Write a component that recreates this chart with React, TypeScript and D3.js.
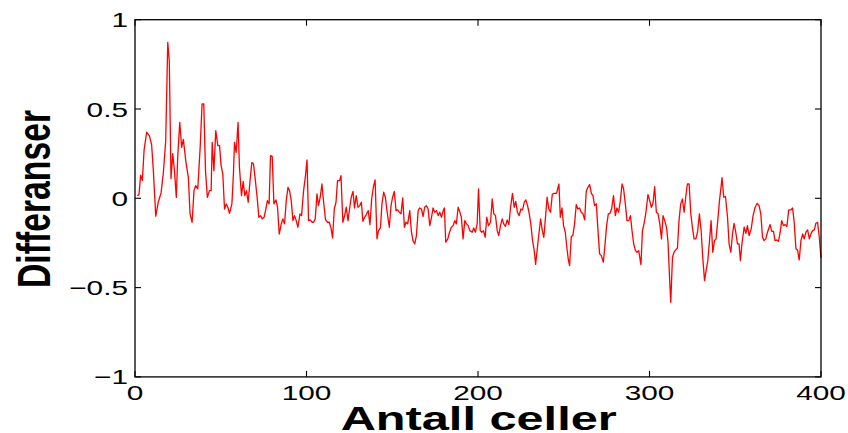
import React from "react";
import * as d3 from "d3";

const cellCounts = [
  1.3, 2.3, 3.3, 4.3, 5.3, 6.8, 8.4, 9.7, 10.7, 12.1, 13.6, 15.2, 16.5, 17.9, 19.1, 20, 21, 22, 23, 24.1, 24.9, 26.1, 27.2, 28.2, 29.6, 31.1, 32.1, 33.3, 34.4, 35.4, 36.6, 38, 39.1, 40.1, 41.1, 42.2, 43.4, 44.4, 45, 46, 47.1,
  48.3, 49.3, 50.2, 51.2, 52.2, 53.2, 54.1, 55.1, 56.5, 57.4, 58, 59, 60.1, 60.9, 62.1, 63.1, 64, 65, 66, 67, 68.1, 69.1, 70.2, 71.4, 72.2, 73.2, 74.2, 75.3, 76.3, 77.2, 78.2, 79, 80, 81, 82.2, 83.1, 84.1, 85.3, 86.2, 87.2, 88.2, 89.2, 90.1, 91.1, 92.1, 93, 94, 95, 96.2, 97.1,
  98.3, 99.3, 100.3, 101.2, 102.2, 103.2, 104.1, 105.1, 106.1, 107, 108, 109, 110, 111.1, 112.3, 113.3, 114.3, 115.2, 116.2, 117.2, 118.1, 119.3, 120.1, 121.2, 122.2, 123.2, 124.2, 125.1, 126.1, 127.1, 128, 129, 130, 131, 132, 132.9, 133.9, 134.9, 136, 137, 138, 139, 140, 141.1, 142, 143.1, 144, 145, 146,
  146.9, 148.3, 149.3, 150.2, 151.2, 152.2, 153.1, 154.1, 155.1, 156.1, 157.1, 158, 159, 160.2, 161.2, 162.1, 163.1, 164.1, 165.1, 166, 167, 168, 168.9, 169.9, 170.9, 171.9, 172.9, 173.8, 174.8, 175.8, 176.8, 177.7, 178.7, 179.7, 180.4, 181.2, 182.4, 183.4, 184.5, 185.5, 186.4, 187.4, 188.4, 189.3, 190.3, 191.3, 192.3, 193.3, 194.3, 195.2,
  196.6, 197.5, 198.5, 199.5, 200.3, 201.3, 202.2, 203.2, 204.2, 205.1, 206.1, 207.3, 208.3, 209.2, 210.2, 211.2, 212.1, 213.1, 214.1, 215, 216, 217, 218, 219, 220.1, 221.1, 222, 223, 224, 225, 226, 227, 227.9, 228.9, 229.9, 230.8, 231.8, 232.8, 233.6, 235.5, 236.5, 237.5, 238.4, 240.3, 241.3, 242.3, 243.3, 244.2, 245.8,
  247.2, 248, 249, 249.9, 250.9, 251.8, 252.6, 253.4, 254.4, 255.3, 256.3, 257.3, 258.2, 259.2, 260.2, 261.2, 262.2, 263.1, 264.1, 265.1, 266.1, 267, 268, 269, 269.9, 270.9, 271.9, 273.1, 274, 275, 276, 276.9, 277.9, 279, 280.1, 281, 282, 283, 284, 284.9, 285.9, 286.9, 287.9, 288.9, 289.8, 290.8, 291.8, 292.7, 293.7, 295,
  295.9, 296.8, 297.8, 299.1, 300.1, 301.1, 302, 303, 304, 305, 306, 307, 307.9, 308.9, 309.9, 310.8, 311.6, 312.4, 313.4, 314.3, 315.3, 316.3, 317.2, 318.2, 319.2, 320.2, 321.1, 322.1, 323.1, 324.1, 325, 326, 327, 328, 329.1, 330.1, 331.1, 332.1, 333, 334, 335, 335.9, 336.9, 337.9, 338.8, 339.8, 340.8, 341.6, 342.3, 343.3, 344.3,
  345.5, 346.4, 347.4, 348.4, 349.3, 350.3, 351.3, 352.2, 353, 354, 355.2, 356.2, 357.1, 358.1, 359.3, 360.4, 361.6, 362.8, 363.9, 364.9, 365.9, 366.8, 367.8, 368.8, 370.3, 371.3, 372.3, 373.2, 374.2, 375.2, 376.2, 377.1, 378.1, 379.1, 380.1, 381.2, 382.5, 383.4, 384.3, 385.4, 386.3, 387.3, 388.3, 389.3, 390.2, 391.2, 392.2, 393.2, 394.1, 395.1, 396.1, 397, 398, 399, 400,
];

const differences = [
  0.015, 0.02, 0.13, 0.1, 0.27, 0.37, 0.35, 0.3, 0.155, -0.1, -0.02, 0.03, 0.14, 0.32, 0.873, 0.77, 0.11, 0.25, 0.155, 0.005, 0.23, 0.425, 0.285, 0.33, 0.21, 0.117, -0.087, -0.134, 0.043, 0.071, 0.053, 0.285, 0.528, 0.528, 0.155, 0.005, 0.043, 0.043, 0.313, 0.155, 0.379,
  0.295, 0.295, 0.183, 0.137, -0.06, -0.031, -0.05, -0.084, -0.031, 0.137, 0.313, 0.257, 0.425, 0.173, 0.015, 0.095, 0.015, 0.043, -0.022, 0.09, 0.2, 0.192, 0.099, -0.013, -0.106, -0.097, -0.115, -0.106, -0.06, -0.013, -0.031, 0.239, 0.235, -0.031, -0.009, -0.05, -0.2, -0.143, -0.115, -0.143, -0.013, 0.062, 0.043, -0.013, -0.125, -0.097, -0.125, -0.162, -0.087, -0.097,
  0.043, 0.117, 0.215, -0.125, -0.121, -0.134, -0.134, -0.115, 0.025, -0.041, 0.006, 0.08, -0.022, -0.121, -0.134, -0.134, -0.166, -0.222, -0.06, -0.022, 0.099, 0.099, 0.127, -0.134, -0.097, -0.05, -0.125, -0.06, 0.006, 0.039, -0.054, 0.015, -0.05, -0.041, -0.022, -0.129, -0.106, -0.091, -0.069, -0.147, -0.003, 0.062, 0.103, -0.227, -0.181, -0.166, -0.031, 0.034, 0.006,
  -0.069, -0.162, -0.041, 0.006, 0.039, -0.069, -0.065, -0.078, -0.087, 0.002, -0.162, -0.134, -0.143, -0.069, -0.19, -0.237, -0.255, -0.209, -0.069, -0.054, -0.06, -0.102, -0.05, -0.041, -0.06, -0.153, -0.106, -0.054, -0.078, -0.069, -0.097, -0.078, -0.106, -0.069, -0.054, -0.246, -0.227, -0.19, -0.162, -0.153, -0.125, -0.143, -0.05, -0.073, -0.106, -0.227, -0.125, -0.143, -0.153, -0.181,
  -0.19, -0.166, -0.19, -0.143, 0.053, -0.181, -0.19, -0.181, -0.218, -0.106, -0.153, -0.134, -0.003, -0.087, -0.097, -0.181, -0.209, -0.153, -0.115, -0.143, -0.158, -0.121, -0.147, -0.05, 0.028, -0.05, -0.017, -0.078, -0.097, -0.06, -0.065, -0.022, -0.009, -0.041, -0.087, -0.143, -0.237, -0.293, -0.37, -0.2, -0.115, -0.181, -0.218, 0.006, -0.06, -0.078, 0.021, 0.028, 0.028,
  0.08, -0.106, -0.054, -0.153, -0.19, -0.274, -0.339, -0.377, -0.214, -0.209, -0.143, -0.035, -0.06, -0.054, -0.078, -0.087, -0.121, 0.039, 0.062, 0.077, 0.028, 0.015, -0.041, -0.031, -0.171, -0.311, -0.321, -0.358, -0.265, -0.153, -0.087, -0.084, -0.06, 0.015, -0.097, -0.054, -0.078, -0.013, 0.08, 0.053, -0.031, -0.125, -0.125, -0.097, -0.181, -0.255, -0.293, -0.302, -0.293, -0.371,
  -0.181, -0.143, -0.087, 0.021, -0.013, -0.05, -0.031, 0.065, -0.078, -0.087, -0.143, -0.227, -0.097, -0.125, -0.162, -0.246, -0.423, -0.582, -0.33, -0.302, -0.289, -0.278, -0.125, -0.031, -0.003, -0.078, 0.006, 0.08, 0.08, -0.087, -0.162, -0.227, -0.227, -0.19, -0.087, -0.181, -0.339, -0.461, -0.405, -0.349, -0.237, -0.125, -0.302, -0.237, -0.227, -0.125, -0.013, 0.053, 0.115, 0.006, 0.01,
  -0.106, -0.255, -0.302, -0.2, -0.14, -0.19, -0.255, -0.255, -0.349, -0.246, -0.162, -0.196, -0.153, -0.209, -0.171, -0.097, -0.05, -0.028, -0.041, -0.087, -0.218, -0.237, -0.227, -0.19, -0.147, -0.185, -0.185, -0.237, -0.233, -0.241, -0.19, -0.125, -0.153, -0.147, -0.158, -0.065, -0.065, -0.054, -0.125, -0.283, -0.289, -0.345, -0.237, -0.2, -0.227, -0.19, -0.177, -0.227, -0.2, -0.181, -0.177, -0.14, -0.134, -0.218, -0.334,
];

const xTicks = [0, 100, 200, 300, 400];
const xTickLabels = ["0", "100", "200", "300", "400"];
const yTicks = [-1, -0.5, 0, 0.5, 1];
const yTickLabels = ["\u22121", "\u22120.5", "0", "0.5", "1"];
const xLabel = "Antall celler";
const yLabel = "Differanser";

const W = 848;
const H = 433;
const left = 135;
const right = 821;
const top = 19.7;
const bottom = 376.9;
const stretch = 1.42;
const font = "Arial, 'Liberation Sans', Helvetica, sans-serif";

export default function App() {
  const x = d3.scaleLinear().domain([0, 400]).range([left, right]);
  const y = d3.scaleLinear().domain([-1, 1]).range([bottom, top]);
  const pts = cellCounts.map((c, i) => [c, differences[i]] as [number, number]);
  const line = d3
    .line<[number, number]>()
    .x((d) => x(d[0]))
    .y((d) => y(d[1]));
  const tickLen = 6;

  return (
    <div style={{ position: "fixed", left: 0, top: 0, width: W, height: H, background: "#fff" }}>
      <svg width={W} height={H} style={{ display: "block" }}>
        <rect x={0} y={0} width={W} height={H} fill="#fff" />
        <path d={line(pts) || ""} fill="none" stroke="#ff0000" strokeWidth={1.3} strokeLinejoin="round" />
        {/* box */}
        <rect x={left} y={top} width={right - left} height={bottom - top} fill="none" stroke="#000" strokeWidth={1.3} />
        {xTicks.map((t) => (
          <g key={"xt" + t}>
            <line x1={x(t)} x2={x(t)} y1={bottom} y2={bottom - tickLen} stroke="#000" strokeWidth={1.1} />
            <line x1={x(t)} x2={x(t)} y1={top} y2={top + tickLen} stroke="#000" strokeWidth={1.1} />
          </g>
        ))}
        {yTicks.map((t) => (
          <g key={"yt" + t}>
            <line x1={left} x2={left + tickLen} y1={y(t)} y2={y(t)} stroke="#000" strokeWidth={1.1} />
            <line x1={right} x2={right - tickLen} y1={y(t)} y2={y(t)} stroke="#000" strokeWidth={1.1} />
          </g>
        ))}
        {xTicks.map((t, i) => (
          <text
            key={"xl" + t}
            transform={`translate(${x(t)},${bottom + 23}) scale(${stretch},1)`}
            textAnchor="middle"
            fontFamily={font}
            fontSize={21}
            fill="#000"
          >
            {xTickLabels[i]}
          </text>
        ))}
        {yTicks.map((t, i) => (
          <text
            key={"yl" + t}
            transform={`translate(${left - 7},${y(t) + 7.5}) scale(${stretch},1)`}
            textAnchor="end"
            fontFamily={font}
            fontSize={21}
            fill="#000"
          >
            {yTickLabels[i]}
          </text>
        ))}
        <text
          x={478.7}
          y={430}
          textAnchor="middle"
          fontFamily={font}
          fontWeight="bold"
          fontSize={33}
          textLength={276}
          lengthAdjust="spacingAndGlyphs"
          fill="#000"
        >
          {xLabel}
        </text>
        <text
          transform={`translate(50,199) scale(${stretch},1) rotate(-90)`}
          textAnchor="middle"
          fontFamily={font}
          fontWeight="bold"
          fontSize={33}
          textLength={178}
          lengthAdjust="spacingAndGlyphs"
          fill="#000"
        >
          {yLabel}
        </text>
      </svg>
    </div>
  );
}
